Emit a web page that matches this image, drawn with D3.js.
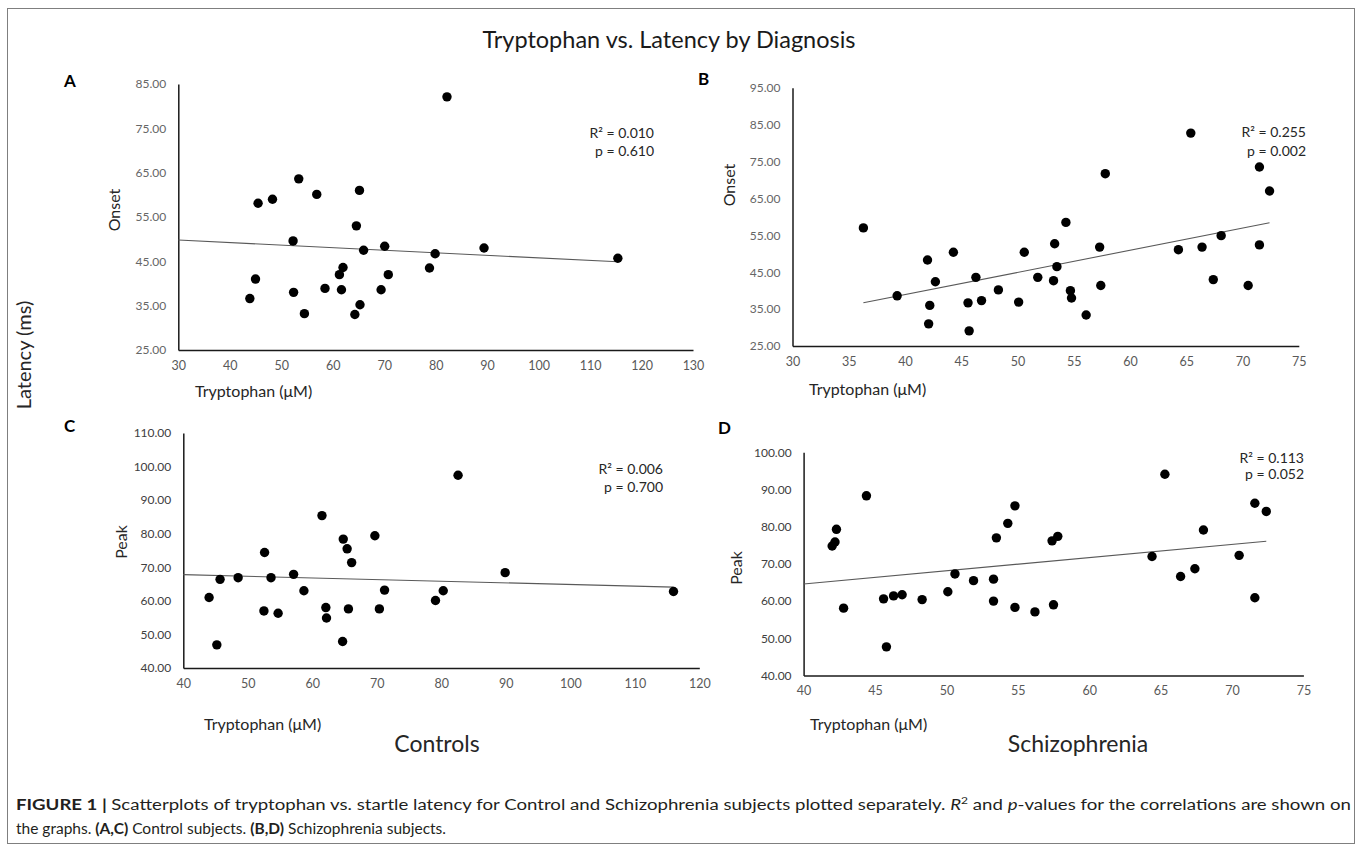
<!DOCTYPE html>
<html>
<head>
<meta charset="utf-8">
<script src="https://cdn.jsdelivr.net/npm/d3@7"></script>
<style>
  body { margin: 0; background: #fff; }
  svg text { font-family: Lato, "Open Sans", sans-serif; }
</style>
</head>
<body>
<div id="chart"></div>
<script>
// ---- data ----
// A: controls, tryptophan vs onset latency
var ctrlTrpA = [82.2, 53.4, 56.9, 65.2, 45.5, 48.3, 64.6, 52.3, 66.0, 70.1, 79.9, 89.4, 115.4,
                62.0, 61.3, 70.8, 78.8, 45.0, 43.9, 52.4, 58.5, 61.7, 69.4, 65.3, 54.5, 64.3];
var ctrlOnset = [82.1, 63.6, 60.1, 61.0, 58.1, 59.0, 53.0, 49.6, 47.5, 48.4, 46.7, 48.0, 45.7,
                 43.6, 42.0, 42.0, 43.5, 41.0, 36.6, 38.0, 38.9, 38.6, 38.6, 35.2, 33.2, 33.0];
// B: schizophrenia, tryptophan vs onset latency
var sczTrpB = [36.3, 39.3, 42.0, 42.2, 42.1, 42.7, 44.3, 45.6, 45.7, 46.3, 46.8, 48.3, 50.1, 50.6,
               51.8, 53.3, 53.2, 53.5, 54.3, 54.7, 54.8, 56.1, 57.3, 57.4, 57.8, 64.3, 65.4, 66.4,
               67.4, 68.1, 70.5, 71.5, 71.5, 72.4];
var sczOnset = [57.0, 38.6, 48.3, 36.0, 31.0, 42.4, 50.4, 36.7, 29.1, 43.6, 37.3, 40.2, 36.9, 50.4,
                43.6, 52.7, 42.7, 46.5, 58.5, 40.0, 38.0, 33.4, 51.8, 41.4, 71.7, 51.1, 82.7, 51.8,
                43.0, 54.9, 41.4, 52.4, 73.5, 67.0];
// C: controls, tryptophan vs peak latency
var ctrlTrpC = [82.6, 61.5, 64.8, 65.4, 69.7, 66.1, 52.6, 45.7, 48.5, 53.6, 57.1, 89.9, 44.0,
                58.7, 71.2, 80.3, 79.1, 52.5, 54.7, 62.1, 65.6, 70.4, 62.2, 45.2, 64.7, 116.0];
var ctrlPeak = [97.4, 85.4, 78.4, 75.5, 79.4, 71.4, 74.4, 66.4, 66.9, 66.9, 67.9, 68.4, 61.0,
                63.0, 63.2, 63.0, 60.1, 57.0, 56.3, 58.0, 57.6, 57.6, 54.9, 46.9, 47.9, 62.8];
// D: schizophrenia, tryptophan vs peak latency
var sczTrpD = [44.4, 42.3, 42.2, 42.0, 42.8, 45.6, 46.3, 46.9, 45.8, 48.3, 50.1, 50.6, 51.9, 53.3,
               53.3, 53.5, 54.3, 54.8, 54.8, 56.2, 57.4, 57.8, 57.5, 64.4, 66.4, 67.4, 68.0, 70.5,
               71.6, 72.4, 71.6, 65.3];
var sczPeak = [88.3, 79.3, 75.9, 74.8, 58.1, 60.6, 61.4, 61.7, 47.7, 60.4, 62.5, 67.3, 65.5, 65.9,
               60.0, 77.0, 80.9, 85.6, 58.3, 57.1, 76.2, 77.4, 59.0, 72.0, 66.6, 68.7, 79.1, 72.3,
               86.3, 84.1, 60.9, 94.1];

// trend lines, [x, y] at both ends
var trendA = [[30, 49.8], [115.4, 44.9]];
var trendB = [[36.3, 36.7], [72.4, 58.4]];
var trendC = [[40, 67.8], [116, 64.1]];
var trendD = [[40, 64.6], [72.4, 76.1]];

// tick values
var ticksXA = [30, 40, 50, 60, 70, 80, 90, 100, 110, 120, 130];
var ticksYA = [25, 35, 45, 55, 65, 75, 85];
var ticksXB = [30, 35, 40, 45, 50, 55, 60, 65, 70, 75];
var ticksYB = [25, 35, 45, 55, 65, 75, 85, 95];
var ticksXC = [40, 50, 60, 70, 80, 90, 100, 110, 120];
var ticksYC = [40, 50, 60, 70, 80, 90, 100, 110];
var ticksXD = [40, 45, 50, 55, 60, 65, 70, 75];
var ticksYD = [40, 50, 60, 70, 80, 90, 100];

var statsA = ["R\u00b2 = 0.010", "p = 0.610"];
var statsB = ["R\u00b2 = 0.255", "p = 0.002"];
var statsC = ["R\u00b2 = 0.006", "p = 0.700"];
var statsD = ["R\u00b2 = 0.113", "p = 0.052"];

var W = 1358, H = 847;

var svg = d3.select("#chart").append("svg")
    .attr("width", W)
    .attr("height", H);

// frame
svg.append("rect")
    .attr("x", 7.5).attr("y", 8.5)
    .attr("width", 1347).attr("height", 835)
    .attr("fill", "none").attr("stroke", "#7f7f7f").attr("stroke-width", 1);

svg.append("text")
    .attr("x", 669).attr("y", 48)
    .attr("text-anchor", "middle")
    .attr("font-size", 23.5).attr("fill", "#1a1a1a")
    .text("Tryptophan  vs. Latency by Diagnosis");

svg.append("text")
    .attr("transform", "translate(31,355) rotate(-90)")
    .attr("text-anchor", "middle")
    .attr("font-size", 20).attr("fill", "#262626")
    .text("Latency (ms)");

var panels = [
  { letter: "A", lx: 64, ly: 87, xs: ctrlTrpA, ys: ctrlOnset, trend: trendA, tx: ticksXA, ty: ticksYA,
    xr: [178.3, 693], yr: [350, 84], ylab: "Onset", ylx: 120, yly: 210, serif: true,
    xlx: 195, xly: 397, stats: statsA, sx: 654, sy: 138, sgap: 17.5 },
  { letter: "B", lx: 698, ly: 85, xs: sczTrpB, ys: sczOnset, trend: trendB, tx: ticksXB, ty: ticksYB,
    xr: [792.5, 1298.8], yr: [346, 87.7], ylab: "Onset", ylx: 735, yly: 185, serif: true,
    xlx: 809, xly: 395, stats: statsB, sx: 1306, sy: 137, sgap: 19 },
  { letter: "C", lx: 64, ly: 432, xs: ctrlTrpC, ys: ctrlPeak, trend: trendC, tx: ticksXC, ty: ticksYC,
    xr: [183.3, 699.3], yr: [668, 433], ylab: "Peak", ylx: 127, yly: 542, serif: false,
    xlx: 204, xly: 730, stats: statsC, sx: 663, sy: 474, sgap: 17.5 },
  { letter: "D", lx: 718, ly: 434, xs: sczTrpD, ys: sczPeak, trend: trendD, tx: ticksXD, ty: ticksYD,
    xr: [803.6, 1303.4], yr: [675.5, 452.3], ylab: "Peak", ylx: 742, yly: 568, serif: false,
    xlx: 810, xly: 730, stats: statsD, sx: 1304, sy: 463, sgap: 15.5 }
];

panels.forEach(function (p) {
  var x = d3.scaleLinear().domain([p.tx[0], p.tx[p.tx.length - 1]]).range(p.xr);
  var y = d3.scaleLinear().domain([p.ty[0], p.ty[p.ty.length - 1]]).range(p.yr);
  var g = svg.append("g");

  var xAxis = g.append("g")
      .attr("transform", "translate(0," + p.yr[0] + ")")
      .call(d3.axisBottom(x).tickValues(p.tx).tickSize(0).tickPadding(11).tickFormat(d3.format("d")));
  xAxis.select(".domain").attr("stroke", "#1a1a1a").attr("stroke-width", 1.5);
  xAxis.selectAll("text").attr("font-size", 12.5).attr("fill", "#595959")
      .attr("font-family", "Lato, sans-serif");

  var yAxis = g.append("g")
      .attr("transform", "translate(" + p.xr[0] + ",0)")
      .call(d3.axisLeft(y).tickValues(p.ty).tickSize(0).tickPadding(12).tickFormat(d3.format(".2f")));
  yAxis.select(".domain").attr("stroke", "#1a1a1a").attr("stroke-width", 1.5);
  yAxis.selectAll("text")
      .attr("font-size", 12)
      .attr("fill", p.serif ? "#666" : "#404040")
      .attr("font-family", p.serif ? "'Liberation Serif', serif" : "Lato, sans-serif");

  g.append("line")
      .attr("x1", x(p.trend[0][0])).attr("y1", y(p.trend[0][1]))
      .attr("x2", x(p.trend[1][0])).attr("y2", y(p.trend[1][1]))
      .attr("stroke", "#595959").attr("stroke-width", 1.1);

  g.selectAll("circle")
      .data(d3.zip(p.xs, p.ys))
      .join("circle")
      .attr("cx", function (d) { return x(d[0]); })
      .attr("cy", function (d) { return y(d[1]); })
      .attr("r", 4.7)
      .attr("fill", "#000");

  g.append("text")
      .attr("x", p.lx).attr("y", p.ly)
      .attr("font-family", "'Liberation Sans', Arial, sans-serif")
      .attr("font-weight", "bold").attr("font-size", 17)
      .text(p.letter);

  g.append("text")
      .attr("transform", "translate(" + p.ylx + "," + p.yly + ") rotate(-90)")
      .attr("text-anchor", "middle")
      .attr("font-size", 16).attr("fill", "#262626")
      .text(p.ylab);

  g.append("text")
      .attr("x", p.xlx).attr("y", p.xly)
      .attr("font-size", 16).attr("fill", "#262626")
      .text("Tryptophan (\u03bcM)");

  g.selectAll(".stat")
      .data(p.stats)
      .join("text")
      .attr("x", p.sx)
      .attr("y", function (d, i) { return p.sy + i * p.sgap; })
      .attr("text-anchor", "end")
      .attr("font-size", 14).attr("fill", "#262626")
      .text(function (d) { return d; });
});

svg.append("text").attr("x", 437).attr("y", 752).attr("text-anchor", "middle")
    .attr("font-size", 23).attr("fill", "#262626").text("Controls");
svg.append("text").attr("x", 1078).attr("y", 752).attr("text-anchor", "middle")
    .attr("font-size", 23).attr("fill", "#262626").text("Schizophrenia");

// caption
var cap1 = svg.append("text")
    .attr("x", 16).attr("y", 810)
    .attr("font-family", "'Liberation Sans', Arial, sans-serif")
    .attr("font-size", 15.5).attr("fill", "#231f20")
    .attr("textLength", 1335).attr("lengthAdjust", "spacingAndGlyphs");
cap1.append("tspan").attr("font-weight", "bold").text("FIGURE 1 | ");
cap1.append("tspan").text("Scatterplots of tryptophan vs. startle latency for Control and Schizophrenia subjects plotted separately. ");
cap1.append("tspan").attr("font-style", "italic").text("R");
cap1.append("tspan").attr("font-size", 10).attr("dy", -6).text("2");
cap1.append("tspan").attr("dy", 6).text(" and ");
cap1.append("tspan").attr("font-style", "italic").text("p");
cap1.append("tspan").text("-values for the correlations are shown on");

var cap2 = svg.append("text")
    .attr("x", 16).attr("y", 834)
    .attr("font-family", "'Liberation Sans', Arial, sans-serif")
    .attr("font-size", 15.5).attr("fill", "#231f20");
cap2.append("tspan").text("the graphs. ");
cap2.append("tspan").attr("font-weight", "bold").text("(A,C)");
cap2.append("tspan").text(" Control subjects. ");
cap2.append("tspan").attr("font-weight", "bold").text("(B,D)");
cap2.append("tspan").text(" Schizophrenia subjects.");
</script>
</body>
</html>
